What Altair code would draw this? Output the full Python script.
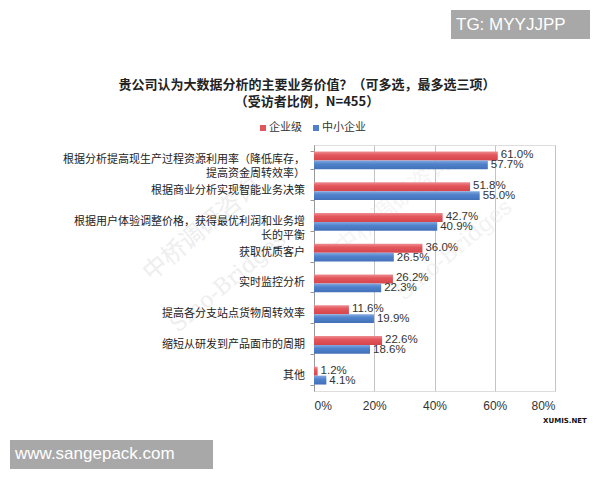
import altair as alt
import pandas as pd

categories = [
    "根据分析提高现生产过程资源利用率（降低库存，\n提高资金周转效率）",
    "根据商业分析实现智能业务决策",
    "根据用户体验调整价格，获得最优利润和业务增\n长的平衡",
    "获取优质客户",
    "实时监控分析",
    "提高各分支站点货物周转效率",
    "缩短从研发到产品面市的周期",
    "其他",
]
series = ["企业级", "中小企业"]
enterprise = [61.0, 51.8, 42.7, 36.0, 26.2, 11.6, 22.6, 1.2]
sme = [57.7, 55.0, 40.9, 26.5, 22.3, 19.9, 18.6, 4.1]
x_ticks = [0, 20, 40, 60, 80]
title_lines = ["贵公司认为大数据分析的主要业务价值？（可多选，最多选三项）", "（受访者比例，N=455）"]

rows = []
for c, e, s in zip(categories, enterprise, sme):
    rows.append({"cat": c, "series": series[0], "value": e})
    rows.append({"cat": c, "series": series[1], "value": s})
df = pd.DataFrame(rows)
cat_df = pd.DataFrame({"cat": categories})

FONT_CJK = "Noto Sans CJK SC"
FONT_NUM = "Liberation Sans"
RED = "#E2555B"
BLUE = "#4F80C9"

red_grad = alt.Gradient(
    gradient="linear", x1=0, x2=0, y1=0, y2=1,
    stops=[alt.GradientStop(color="#EE8E92", offset=0),
           alt.GradientStop(color="#E3565C", offset=0.4),
           alt.GradientStop(color="#D4464C", offset=1)],
)
blue_grad = alt.Gradient(
    gradient="linear", x1=0, x2=0, y1=0, y2=1,
    stops=[alt.GradientStop(color="#86A9E0", offset=0),
           alt.GradientStop(color="#5083CC", offset=0.4),
           alt.GradientStop(color="#4270B8", offset=1)],
)

y_enc = alt.Y(
    "cat:N", sort=categories,
    scale=alt.Scale(paddingInner=0.42, paddingOuter=0.21),
    axis=alt.Axis(labels=False, title=None, tickBand="extent", domainColor="#999999",
                  tickColor="#999999", tickSize=4, grid=False),
)
x_enc = alt.X(
    "value:Q", scale=alt.Scale(domain=[0, 80]),
    axis=alt.Axis(values=x_ticks, labelExpr="datum.value + '%'", domain=False, ticks=False,
                  gridColor="#c4c4c4", title=None, labelPadding=9, labelFontSize=12,
                  labelColor="#333333", labelFont=FONT_NUM),
)
yoff_enc = alt.YOffset("series:N", sort=series, scale=alt.Scale(domain=series))

base = alt.Chart(df)
bars_red = base.transform_filter(alt.datum.series == series[0]).mark_bar(color=red_grad).encode(
    x=x_enc, y=y_enc, yOffset=yoff_enc)
bars_blue = base.transform_filter(alt.datum.series == series[1]).mark_bar(color=blue_grad).encode(
    x=x_enc, y=y_enc, yOffset=yoff_enc)

lab_base = base.transform_calculate(label="format(datum.value, '.1f') + '%'")
labels_red = lab_base.transform_filter(alt.datum.series == series[0]).mark_text(
    align="left", baseline="middle", dx=3, dy=-0.5, fontSize=11.5, font=FONT_NUM, color="#333333"
).encode(x=x_enc, y=y_enc, yOffset=yoff_enc, text="label:N")
labels_blue = lab_base.transform_filter(alt.datum.series == series[1]).mark_text(
    align="left", baseline="middle", dx=3, dy=0.5, fontSize=11.5, font=FONT_NUM, color="#333333"
).encode(x=x_enc, y=y_enc, yOffset=yoff_enc, text="label:N")

cat_labels = alt.Chart(cat_df).mark_text(
    align="right", baseline="middle", lineBreak="\n", fontSize=11, font=FONT_CJK,
    color="#222222", lineHeight=14,
).encode(x=alt.value(-9), y=y_enc, text="cat:N")

one = pd.DataFrame({"k": [0]})


def txt(t, x, y, **kw):
    return alt.Chart(pd.DataFrame({"t": [t]})).mark_text(**kw).encode(
        x=alt.value(x), y=alt.value(y), text="t:N")


def box(x1, x2, y1, y2, color):
    return alt.Chart(one).mark_rect(color=color).encode(
        x=alt.value(x1), x2=alt.value(x2), y=alt.value(y1), y2=alt.value(y2))


title1 = txt(title_lines[0], -7, -60, align="center", baseline="middle", fontSize=13,
             fontWeight="bold", font=FONT_CJK, color="#222222")
title2 = txt(title_lines[1], -7, -43, align="center", baseline="middle", fontSize=13,
             fontWeight="bold", font=FONT_CJK, color="#222222")

leg_r = box(-54, -48, -20, -14, RED)
leg_rt = txt(series[0], -45, -17, align="left", baseline="middle", fontSize=11, font=FONT_CJK, color="#333333")
leg_b = box(-1, 5, -20, -14, BLUE)
leg_bt = txt(series[1], 8, -17, align="left", baseline="middle", fontSize=11, font=FONT_CJK, color="#333333")

wm_color = "#e4e4e4"
wm = [
    txt("中桥调研咨询", -112, 85, align="center", baseline="middle", fontSize=24, font=FONT_CJK,
        color=wm_color, angle=320, opacity=0.6),
    txt("Sino-Bridges", -86, 137, align="center", baseline="middle", fontSize=22, font="DejaVu Serif",
        color=wm_color, angle=320, opacity=0.6),
    txt("中桥调研咨询", 80, 60, align="center", baseline="middle", fontSize=24, font=FONT_CJK,
        color=wm_color, angle=320, opacity=0.35),
    txt("Sino-Bridges", 140, 105, align="center", baseline="middle", fontSize=22, font="DejaVu Serif",
        color=wm_color, angle=320, opacity=0.45),
]

tg_box = box(137, 276, -135, -106, "#a8a8a8")
tg_txt = txt("TG: MYYJJPP", 142, -120, align="left", baseline="middle", fontSize=17,
             font="Liberation Sans", color="#ffffff")
www_box = box(-304, -101, 295, 324, "#a8a8a8")
www_txt = txt("www.sangepack.com", -299, 309, align="left", baseline="middle", fontSize=17,
              font="Liberation Sans", color="#ffffff")
xumis = txt("XUMIS.NET", 251, 276, align="center", baseline="middle", fontSize=7,
            fontWeight="bold", font="DejaVu Sans", color="#111111")

chart = alt.layer(
    *wm, bars_red, bars_blue, labels_red, labels_blue, cat_labels,
    title1, title2, leg_r, leg_rt, leg_b, leg_bt,
    tg_box, tg_txt, www_box, www_txt, xumis,
).properties(
    width=241, height=246,
    padding={"left": 306, "top": 137, "right": 37, "bottom": 81},
    autosize=alt.AutoSizeParams(type="none"),
).configure_view(stroke=None).configure(background="#ffffff")

chart.save("out.html", embed_options={"renderer": "svg", "actions": False})
